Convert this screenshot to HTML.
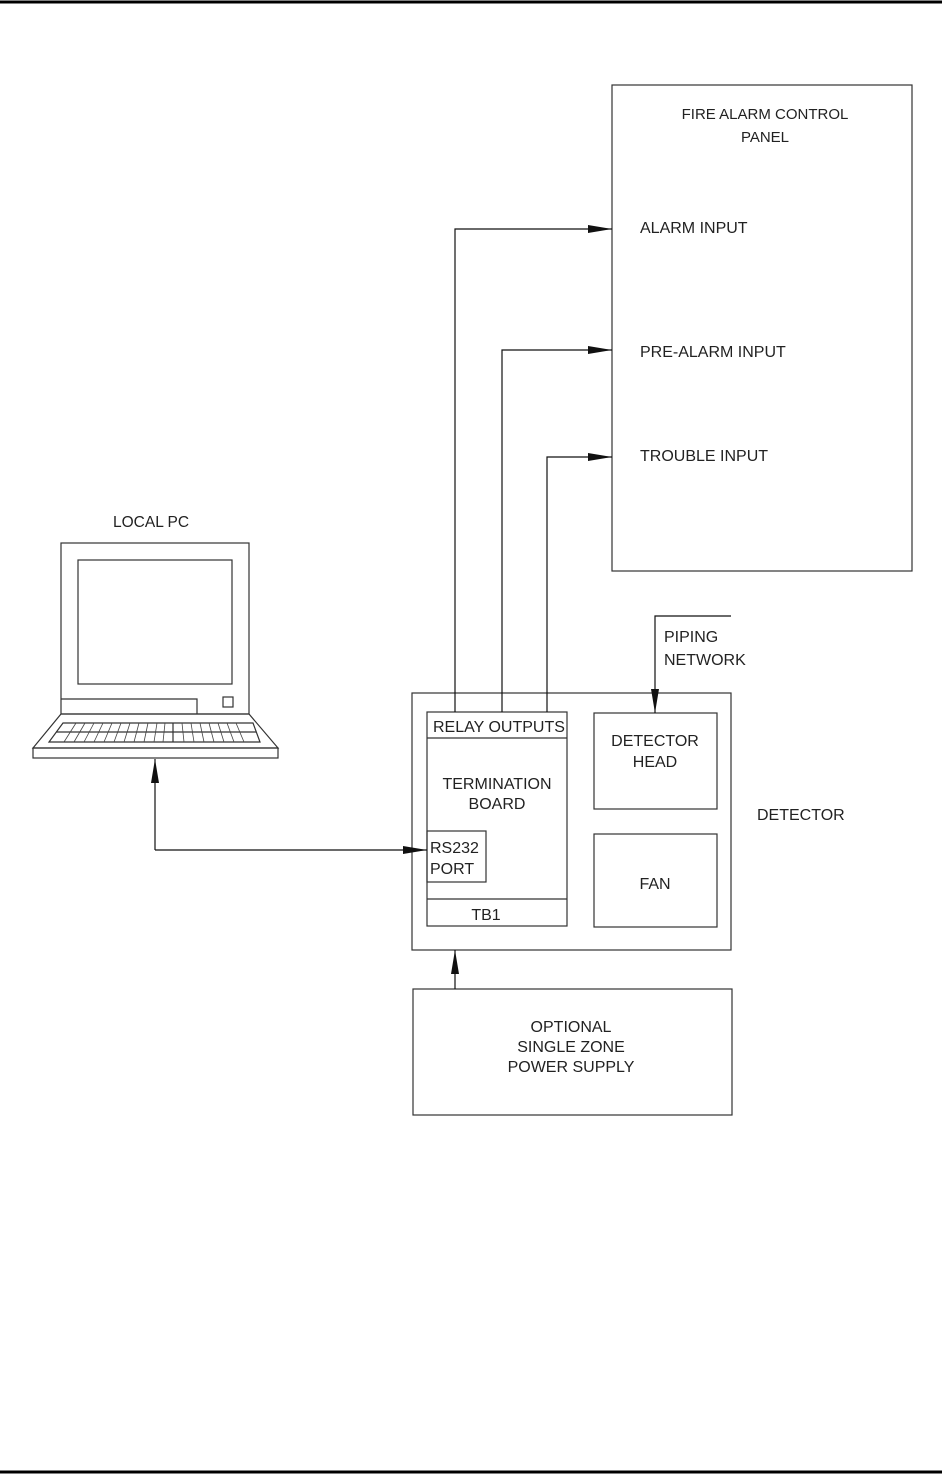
<!DOCTYPE html>
<html><head><style>body{margin:0;background:#fff}svg{display:block}text{font-family:"Liberation Sans",Arial,sans-serif;fill:#222}</style></head><body>
<svg width="942" height="1475" viewBox="0 0 942 1475" xmlns="http://www.w3.org/2000/svg">
<defs><marker id="b" markerWidth="24" markerHeight="8" refX="24" refY="4" orient="auto" markerUnits="userSpaceOnUse"><path d="M0,0 L24,4 L0,8 Z" fill="#111"/></marker></defs>
<line x1="0" y1="2" x2="942" y2="2" stroke="#000" stroke-width="3"/>
<line x1="0" y1="1472" x2="942" y2="1472" stroke="#000" stroke-width="3"/>
<g fill="none" stroke="#333" stroke-width="1.2">
<rect x="612" y="85" width="300" height="486"/>
<rect x="412" y="693" width="319" height="257"/>
<rect x="427" y="712" width="140" height="214"/>
<line x1="427" y1="738" x2="567" y2="738"/>
<line x1="427" y1="899" x2="567" y2="899"/>
<rect x="427" y="831" width="59" height="51"/>
<rect x="594" y="713" width="123" height="96"/>
<rect x="594" y="834" width="123" height="93"/>
<rect x="413" y="989" width="319" height="126"/>
<rect x="61" y="543" width="188" height="171"/>
<rect x="78" y="560" width="154" height="124"/>
<polyline points="61,699 197,699 197,714"/>
<rect x="223" y="697" width="10" height="10"/>
<polygon points="61,714 249,714 278,748 33,748"/>
<rect x="33" y="748" width="245" height="10"/>
<polygon points="63,723 253,723 260,742 49,742"/>
<line x1="56" y1="732" x2="256" y2="732"/>
<line x1="173" y1="723" x2="173" y2="742"/>
</g>
<g stroke="#444" stroke-width="0.8">
<line x1="76" y1="723" x2="64" y2="742"/><line x1="85" y1="723" x2="74" y2="742"/><line x1="94" y1="723" x2="84" y2="742"/><line x1="103" y1="723" x2="94" y2="742"/><line x1="112" y1="723" x2="104" y2="742"/><line x1="121" y1="723" x2="114" y2="742"/><line x1="130" y1="723" x2="124" y2="742"/><line x1="139" y1="723" x2="134" y2="742"/><line x1="148" y1="723" x2="144" y2="742"/><line x1="157" y1="723" x2="154" y2="742"/><line x1="165" y1="723" x2="163" y2="742"/>
<line x1="182" y1="723" x2="184" y2="742"/><line x1="191" y1="723" x2="194" y2="742"/><line x1="200" y1="723" x2="204" y2="742"/><line x1="209" y1="723" x2="214" y2="742"/><line x1="218" y1="723" x2="224" y2="742"/><line x1="227" y1="723" x2="234" y2="742"/><line x1="236" y1="723" x2="244" y2="742"/>
</g>
<g fill="none" stroke="#111" stroke-width="1.2">
<polyline points="455,712 455,229 612,229" marker-end="url(#b)"/>
<polyline points="502,712 502,350 612,350" marker-end="url(#b)"/>
<polyline points="547,712 547,457 612,457" marker-end="url(#b)"/>
<polyline points="731,616 655,616 655,713" marker-end="url(#b)"/>
<polyline points="155,850 427,850" marker-end="url(#b)"/>
<line x1="155" y1="850" x2="155" y2="759" marker-end="url(#b)"/>
<line x1="455" y1="989" x2="455" y2="950" marker-end="url(#b)"/>
</g>
<g font-size="16">
<text x="765" y="119" text-anchor="middle" font-size="15">FIRE ALARM CONTROL</text>
<text x="765" y="142" text-anchor="middle" font-size="15">PANEL</text>
<text x="640" y="233">ALARM INPUT</text>
<text x="640" y="357">PRE-ALARM INPUT</text>
<text x="640" y="461">TROUBLE INPUT</text>
<text x="113" y="527" font-size="15.5">LOCAL PC</text>
<text x="664" y="642">PIPING</text>
<text x="664" y="665">NETWORK</text>
<text x="433" y="732">RELAY OUTPUTS</text>
<text x="497" y="789" text-anchor="middle">TERMINATION</text>
<text x="497" y="809" text-anchor="middle">BOARD</text>
<text x="430" y="853">RS232</text>
<text x="430" y="874">PORT</text>
<text x="486" y="920" text-anchor="middle">TB1</text>
<text x="655" y="746" text-anchor="middle">DETECTOR</text>
<text x="655" y="767" text-anchor="middle">HEAD</text>
<text x="655" y="889" text-anchor="middle">FAN</text>
<text x="757" y="820">DETECTOR</text>
<text x="571" y="1032" text-anchor="middle">OPTIONAL</text>
<text x="571" y="1052" text-anchor="middle">SINGLE ZONE</text>
<text x="571" y="1072" text-anchor="middle">POWER SUPPLY</text>
</g>
</svg>
</body></html>
